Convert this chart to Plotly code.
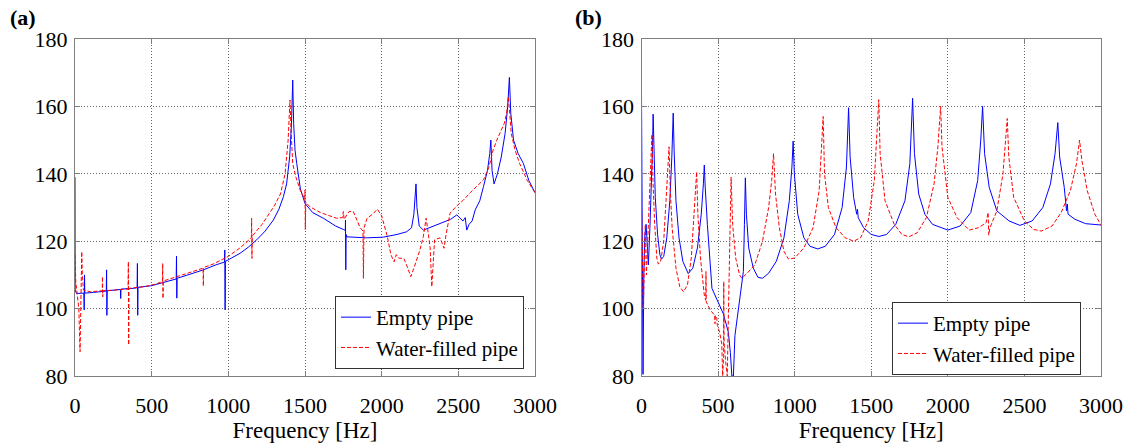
import plotly.graph_objects as go

# ---------------- Panel (a) ----------------
a_empty_f = [0, 1, 10, 40, 58, 60, 62, 64, 120, 204, 206, 208, 210, 260, 296, 298, 300, 380, 405, 407, 409, 411,
             500, 600, 660, 662, 664, 666, 750, 837, 920, 975, 977, 979, 981, 1020, 1076, 1130, 1185, 1240, 1294,
             1330, 1359, 1380, 1400, 1412, 1420, 1426, 1435, 1446, 1470, 1500, 1550, 1620, 1700, 1750, 1763, 1764,
             1766, 1768, 1772, 1800, 1900, 2011, 2100, 2163, 2195, 2210, 2218, 2224, 2230, 2245, 2272, 2340, 2403,
             2450, 2490, 2510, 2530, 2545, 2555, 2570, 2590, 2610, 2640, 2664, 2690, 2705, 2712, 2720, 2733, 2755,
             2780, 2805, 2822, 2833, 2842, 2860, 2890, 2924, 2960, 3000]
a_empty_v = [139, 105.5, 104.5, 104.5, 104.6, 99.6, 110, 104.6, 104.8, 105.2, 111.5, 98, 105.3, 105.5, 105.7, 103,
             105.8, 106, 106.2, 113.4, 98, 106.3, 106.8, 108, 108.8, 115.6, 103.1, 109, 110.2, 111.5, 113, 113.8,
             117.4, 99.6, 114, 115, 116.4, 118.2, 120.4, 123, 126.3, 129.5, 133.2, 137, 145, 155, 167.8, 155, 147,
             143.1, 135.5, 131.2, 128.5, 126.8, 124.5, 123.5, 123.2, 126.3, 111.5, 122, 121.3, 121.2, 121, 121.2,
             122, 122.8, 124, 128, 134, 137, 130, 124.5, 123.3, 124.5, 125.8, 126.5, 127.8, 127, 126, 127, 123.3,
             125, 126, 129.3, 132, 136.2, 141, 146, 150, 141, 137, 140, 145, 152, 160, 168.6, 158, 150, 146, 143.1,
             138, 134.4]

a_water_f = [0, 5, 15, 25, 33, 38, 44, 48, 55, 100, 178, 179, 181, 183, 260, 346, 348, 350, 352, 450, 520, 570, 572,
             574, 576, 700, 800, 835, 837, 839, 900, 1000, 1076, 1150, 1152, 1154, 1156, 1220, 1300, 1340, 1370,
             1390, 1402, 1410, 1420, 1440, 1470, 1498, 1500, 1502, 1505, 1533, 1600, 1707, 1745, 1750, 1755, 1787,
             1815, 1860, 1878, 1881, 1885, 1905, 1940, 1972, 2000, 2037, 2060, 2081, 2095, 2110, 2146, 2170, 2190,
             2210, 2229, 2250, 2272, 2290, 2305, 2316, 2327, 2335, 2345, 2381, 2395, 2407, 2420, 2446, 2490, 2533,
             2580, 2620, 2664, 2700, 2727, 2751, 2780, 2800, 2815, 2826, 2835, 2845, 2870, 2900, 2950, 3000]
a_water_v = [116, 108, 104, 100, 87.2, 100, 116.9, 110, 105.5, 105, 105.3, 109.5, 103.5, 105.3, 105.5, 105.8, 113.9,
             89.2, 106, 106.5, 107.2, 108, 113.4, 103, 108.2, 110, 111.5, 112, 106.7, 112.2, 113.2, 115.5, 118, 121,
             126.8, 114.9, 121.5, 125, 130.5, 134, 140, 150, 161.9, 152, 143, 139.1, 135, 132.5, 135.2, 123.5,
             131.5, 130.2, 128.5, 126.8, 127, 128.8, 126.5, 128.8, 128.8, 124, 123, 109, 124, 126.8, 128, 129.5,
             127.5, 121.4, 116, 113.9, 116, 115, 114.8, 112, 109.5, 112, 114.4, 117.5, 121.4, 126.8, 122, 118,
             106.5, 114, 120.4, 121, 119, 117.9, 122, 128.3, 130.5, 132.2, 134.5, 136.2, 138.2, 142, 147.1, 150,
             153, 155, 158, 162.9, 158, 152, 147, 143, 138, 134.4]

# ---------------- Panel (b) ----------------
b_empty_f = [0, 2, 5, 10, 15, 22, 30, 38, 45, 55, 65, 72, 76, 80, 90, 105, 120, 131, 145, 165, 185, 198, 207, 213,
             225, 245, 270, 305, 335, 365, 390, 404, 410, 416, 430, 460, 500, 534, 567, 580, 590, 600, 610, 630,
             650, 665, 672, 678, 685, 700, 730, 760, 790, 830, 880, 930, 965, 982, 990, 998, 1020, 1060, 1100, 1150,
             1200, 1260, 1310, 1338, 1352, 1362, 1385, 1405, 1410, 1415, 1450, 1500, 1550, 1600, 1660, 1720, 1752,
             1770, 1782, 1810, 1850, 1900, 2000, 2080, 2150, 2195, 2215, 2227, 2240, 2270, 2320, 2400, 2470, 2550,
             2620, 2670, 2700, 2718, 2730, 2760, 2775, 2780, 2785, 2830, 2900, 3000]
b_empty_v = [163, 140, 95, 80.5, 110, 122, 125, 116, 113, 124, 135, 148, 157.7, 148, 133, 122, 116, 114.7, 115.5,
             121, 132, 145, 158, 147, 132, 121, 114, 110.4, 112, 118, 128, 137, 142.6, 136, 125, 106, 102, 98.5, 93,
             87, 80, 80, 92, 99, 105, 111, 125, 138.8, 128, 118, 112, 109.3, 109, 110.5, 114, 121, 132, 142, 149.7,
             140, 128, 121, 118.5, 117.7, 118.5, 122, 130, 142, 159.6, 145, 133, 128, 129.5, 127, 124, 122, 121.4,
             122, 125, 132, 143, 162.4, 146, 134, 128, 125, 123.3, 124.5, 128.5, 138, 150, 160, 146, 136, 129, 126,
             124.7, 126, 130, 137, 146, 155.2, 145, 136, 129, 131, 128, 126.5, 125.2, 124.8]

b_water_f = [0, 3, 8, 12, 18, 25, 32, 40, 50, 60, 68, 75, 85, 100, 110, 125, 145, 160, 172, 180, 188, 200, 225, 250,
             274, 300, 325, 345, 360, 368, 385, 410, 419, 421, 423, 450, 478, 480, 482, 492, 495, 510, 524, 530, 536,
             537, 539, 550, 560, 568, 575, 585, 595, 615, 640, 655, 690, 740, 790, 830, 850, 862, 875, 900, 930, 960,
             1000, 1060, 1120, 1160, 1186, 1195, 1220, 1270, 1330, 1385, 1430, 1480, 1520, 1549, 1558, 1590, 1650,
             1700, 1745, 1800, 1860, 1910, 1935, 1953, 1962, 2000, 2060, 2140, 2200, 2250, 2263, 2267, 2275, 2320,
             2360, 2388, 2398, 2430, 2500, 2560, 2610, 2680, 2740, 2800, 2840, 2860, 2875, 2910, 2960, 3000]
b_water_v = [130, 118, 102, 100, 112, 125, 110, 120, 130, 142, 151.7, 138, 126, 115, 113.2, 114, 120, 132, 142, 148,
             135, 124, 112, 106.5, 105, 107, 115, 128, 140.6, 128, 115, 104, 102.5, 111, 102, 99.5, 98, 95.5, 98,
             97, 95, 93, 89.5, 80, 86, 108, 90, 84, 80, 100, 120, 139, 125, 115, 110, 109, 110.5, 113, 120, 130,
             138, 146, 134, 124, 117, 114.7, 115, 118, 124, 135, 157, 140, 130, 124, 121, 120, 121, 126, 138, 162,
             146, 132, 125, 122, 121.3, 122.5, 127, 137, 148, 160, 148, 133, 127, 123.3, 124, 125.5, 128.5, 121.8,
             124, 129, 140, 156.4, 145, 133, 126, 123.5, 123, 124.5, 128.5, 135, 143, 150, 144, 135, 128, 124.8]

x_ticks = [0, 500, 1000, 1500, 2000, 2500, 3000]
y_ticks = [80, 100, 120, 140, 160, 180]
series_names = ["Empty pipe", "Water-filled pipe"]
panel_labels = ["(a)", "(b)"]
x_title = "Frequency [Hz]"

FONT = "Liberation Serif"
BLUE = "#0000ff"
RED = "#ff0000"

fig = go.Figure()
fig.add_trace(go.Scatter(x=a_empty_f, y=a_empty_v, mode="lines", name=series_names[0],
                         line=dict(color=BLUE, width=1), xaxis="x", yaxis="y", legend="legend"))
fig.add_trace(go.Scatter(x=a_water_f, y=a_water_v, mode="lines", name=series_names[1],
                         line=dict(color=RED, width=1, dash="4px,2px"), xaxis="x", yaxis="y", legend="legend"))
fig.add_trace(go.Scatter(x=b_empty_f, y=b_empty_v, mode="lines", name=series_names[0],
                         line=dict(color=BLUE, width=1), xaxis="x2", yaxis="y2", legend="legend2"))
fig.add_trace(go.Scatter(x=b_water_f, y=b_water_v, mode="lines", name=series_names[1],
                         line=dict(color=RED, width=1, dash="4px,2px"), xaxis="x2", yaxis="y2", legend="legend2"))

W, H = 1129, 445
def px_x(p): return p / W
def px_y(p): return (H - p) / H

axis_common = dict(showline=True, linecolor="#7f7f7f", linewidth=1, mirror="ticks",
                   ticks="inside", ticklen=5, tickcolor="#7f7f7f", automargin=False,
                   showgrid=True, gridcolor="#666666", griddash="1px,2px", gridwidth=1,
                   zeroline=False, tickfont=dict(family=FONT, size=22, color="black"))

xcommon = dict(axis_common, range=[0, 3000], tickvals=x_ticks, ticklabelstandoff=10,
               title=dict(text=x_title, font=dict(family=FONT, size=23, color="black"), standoff=4))
ycommon = dict(axis_common, range=[80, 180], tickvals=y_ticks, ticklabelstandoff=2)

legend_common = dict(xanchor="left", yanchor="top", bgcolor="white", bordercolor="#333333", borderwidth=1,
                     font=dict(family=FONT, size=21, color="black"), itemwidth=30, tracegroupgap=0)

fig.update_layout(
    width=W, height=H, autosize=False,
    margin=dict(l=0, r=0, t=0, b=0, pad=0, autoexpand=False),
    paper_bgcolor="white", plot_bgcolor="white",
    xaxis=dict(xcommon, domain=[px_x(75), px_x(535)], anchor="y"),
    yaxis=dict(ycommon, domain=[px_y(376), px_y(39)], anchor="x"),
    xaxis2=dict(xcommon, domain=[px_x(641.5), px_x(1101)], anchor="y2"),
    yaxis2=dict(ycommon, domain=[px_y(376), px_y(39)], anchor="x2"),
    legend=dict(legend_common, x=px_x(335), y=px_y(296)),
    legend2=dict(legend_common, x=px_x(892), y=px_y(302)),
    showlegend=True,
    annotations=[
        dict(text="<b>" + panel_labels[0] + "</b>", x=px_x(8), y=px_y(17), xref="paper", yref="paper",
             xanchor="left", yanchor="middle", showarrow=False,
             font=dict(family=FONT, size=22, color="black")),
        dict(text="<b>" + panel_labels[1] + "</b>", x=px_x(573), y=px_y(17), xref="paper", yref="paper",
             xanchor="left", yanchor="middle", showarrow=False,
             font=dict(family=FONT, size=22, color="black")),
    ],
)

fig.write_html("out.html")
